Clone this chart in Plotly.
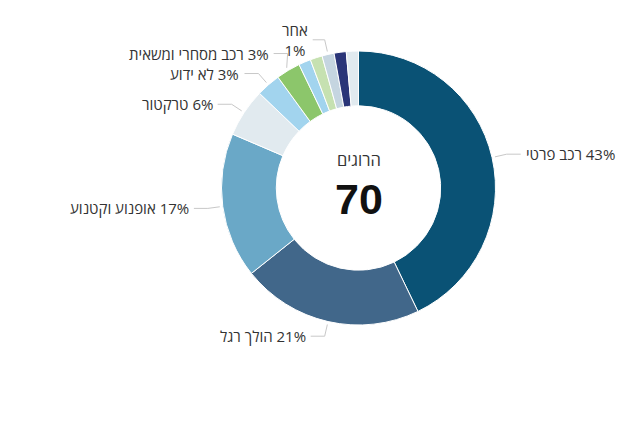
import math
import plotly.graph_objects as go

# נתונים
categories = ['רכב פרטי', 'הולך רגל', 'אופנוע וקטנוע', 'טרקטור', 'לא ידוע',
              'רכב מסחרי ומשאית', 'לא מסומן 1', 'לא מסומן 2', 'אחר',
              'לא מסומן 3', 'לא מסומן 4']
deaths = [30, 15, 12, 4, 2, 2, 1, 1, 1, 1, 1]
shown = [True, True, True, True, True, True, False, False, True, False, False]
colors = ['#0a5275', '#41678a', '#6aa8c7', '#e1eaef', '#a2d4ee', '#8cc66b',
          '#a2d4ee', '#c6e1b1', '#c5d5e0', '#2a3578', '#e1eaef']
center_title = 'הרוגים'
total = sum(deaths)

# גוף הדף מוסיף שוליים של 8 פיקסלים
OFF = 8
W, H = 637 - OFF, 425 - OFF
cx, cy, R = 358.5 - OFF, 188 - OFF, 137  # מרכז ורדיוס בפיקסלים

fig = go.Figure(go.Pie(
    labels=categories,
    values=deaths,
    sort=False,
    direction='clockwise',
    rotation=0,
    hole=0.6,
    marker=dict(colors=colors, line=dict(color='white', width=1)),
    textinfo='none',
    hoverinfo='label+value+percent',
    showlegend=False,
    domain=dict(x=[(cx - R) / W, (cx + R) / W], y=[1 - (cy + R) / H, 1 - (cy - R) / H]),
))

# תוויות עם קווי הובלה, מחושבות מזווית הפרוסה
labels = []
cum = 0
for name, v, s in zip(categories, deaths, shown):
    mid = (cum + v / 2) / total * 2 * math.pi
    cum += v
    if not s:
        continue
    pct = round(v / total * 100)
    wrap = name == 'אחר'
    if wrap:
        text = f'{name}<br>{pct}%'
    else:
        text = '\u200f' + f'{pct}% {name}'
    side = 1 if math.sin(mid) > 0 else -1
    ey = cy - 152 * math.cos(mid)
    labels.append(dict(mid=mid, side=side, ey=ey, text=text, wrap=wrap))

# הפרדה אנכית בין תוויות באותו צד
for side in (1, -1):
    grp = sorted([l for l in labels if l['side'] == side and not l['wrap']],
                 key=lambda l: -l['ey'])
    for a, b in zip(grp, grp[1:]):
        if a['ey'] - b['ey'] < 20:
            b['ey'] = a['ey'] - 20

font_family = 'Open Sans, Liberation Sans, DejaVu Sans'
for l in labels:
    mid, side, ey = l['mid'], l['side'], l['ey']
    sx = cx + 140 * math.sin(mid)
    sy = cy - 140 * math.cos(mid)
    dy = ey - cy
    ex = cx + side * math.sqrt(max(152 ** 2 - dy ** 2, 0))
    tx = ex + side * (12 if l['wrap'] else 14)
    path = f'M {sx / W},{1 - sy / H} L {ex / W},{1 - ey / H} L {tx / W},{1 - ey / H}'
    fig.add_shape(type='path', path=path, xref='paper', yref='paper',
                  line=dict(color='#c8c8c8', width=1))
    fig.add_annotation(x=(tx + side * 3) / W, y=1 - ey / H, xref='paper', yref='paper',
                       text=l['text'], showarrow=False,
                       xanchor='left' if side > 0 else 'right', yanchor='middle',
                       align='center',
                       font=dict(family=font_family, size=15, color='#333333'))

# טקסט במרכז
fig.add_annotation(x=cx / W, y=1 - (160 - OFF) / H, xref='paper', yref='paper',
                   text=center_title, showarrow=False,
                   font=dict(family=font_family, size=16.5, color='#333333'))
fig.add_annotation(x=cx / W, y=1 - (199 - OFF) / H, xref='paper', yref='paper',
                   text=f'<b>{total}</b>', showarrow=False,
                   font=dict(family='Liberation Sans, Arial, sans-serif', size=43, color='#111111'))

fig.update_layout(
    width=W, height=H,
    margin=dict(l=0, r=0, t=0, b=0),
    paper_bgcolor='white',
    plot_bgcolor='white',
)

fig.write_html('out.html')
